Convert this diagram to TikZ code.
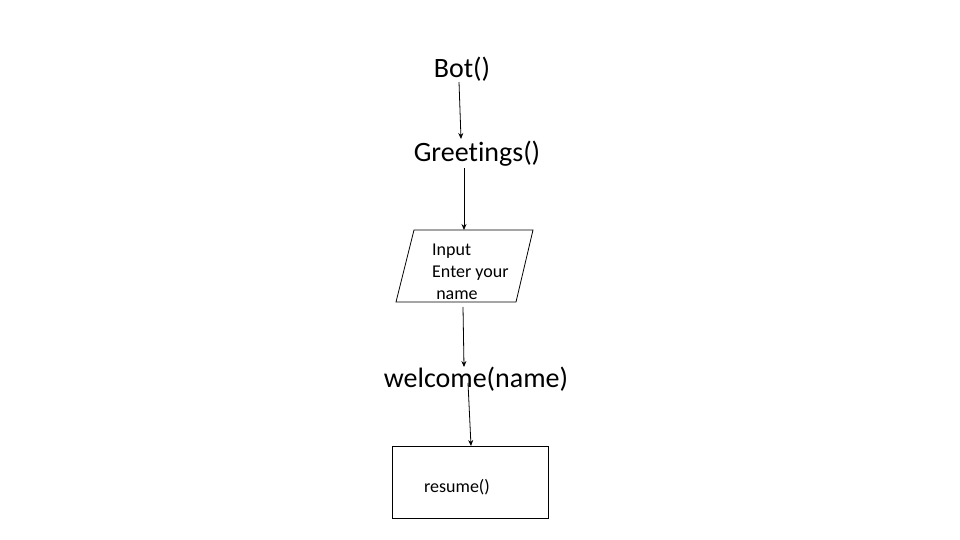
\documentclass[tikz,border=0pt]{standalone}
\usepackage{fontspec}
\setmainfont{Carlito}[Ligatures=NoCommon]
\usetikzlibrary{arrows.meta}

\tikzset{
    bigtext/.style={font={\fontsize{28}{32}\selectfont}, inner sep=0pt},
    smalltext/.style={font={\fontsize{18}{22}\selectfont}, inner sep=0pt},
    flow/.style={-{Stealth[length=6pt,width=5pt]}, black, line width=0.8pt}
}

\begin{document}
\begin{tikzpicture}[x=1pt, y=-1pt]
    \useasboundingbox (0,0) rectangle (960,540);

    \node[bigtext] (bot) at (462,69) {Bot()};
    \node[bigtext] (greet) at (477,154) {Greetings()};

    % parallelogram for input
    \draw[line width=0.8pt] (414,230) -- (533,230) -- (516,302) -- (396,302) -- cycle;
    \coordinate (inptop) at (464,230);
    \coordinate (inpbot) at (463,307);
    \node[
        smalltext,
        align=left,
        anchor=north west]
        (inp) at (432,243.5) {Input\\Enter your\\\ name};

    \node[bigtext] (welcome) at (476,379) {welcome(name)};

    \node[
        rectangle,
        draw,
        line width=0.8pt,
        minimum width=156pt,
        minimum height=72pt]
        (res) at (470,482) {};
    \node[smalltext] (resname) at (457,487) {resume()};

    % arrow ends
    \coordinate (botout) at (459,82);
    \coordinate (greetin) at (461,139);
    \coordinate (greetout) at (464,168);
    \coordinate (welin) at (464,367);
    \coordinate (welout) at (468,383);
    \coordinate (resin) at (471,446);

    \draw[flow] (botout) -- (greetin);
    \draw[flow] (greetout) -- (inptop);
    \draw[flow] (inpbot) -- (welin);
    \draw[flow] (welout) -- (resin);
\end{tikzpicture}
\end{document}
